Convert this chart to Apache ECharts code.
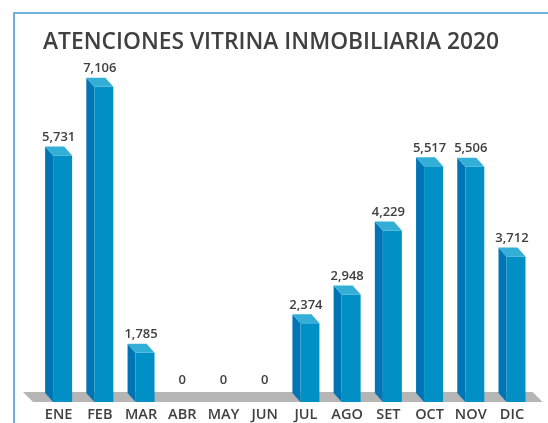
<!DOCTYPE html>
<html>
<head>
<meta charset="utf-8">
<script src="https://cdn.jsdelivr.net/npm/echarts@6/dist/echarts.min.js"></script>
<style>
  html, body { margin: 0; padding: 0; background: #fff; }
  #chart { width: 548px; height: 423px; }
</style>
</head>
<body>
<div id="chart"></div>
<script>
// datos
var meses = ['ENE', 'FEB', 'MAR', 'ABR', 'MAY', 'JUN', 'JUL', 'AGO', 'SET', 'OCT', 'NOV', 'DIC']
var atenciones = [5731, 7106, 1785, 0, 0, 0, 2374, 2948, 4229, 5517, 5506, 3712]
var titulo = 'ATENCIONES VITRINA INMOBILIARIA 2020'

// el eje del original no arranca en cero
var Y_MIN = 800
var Y_MAX = 8000

var chart = echarts.init(document.getElementById('chart'))

// barra "3d": cara lateral, frente y tapa
function barra3d(params, api) {
  var i = api.value(0)
  var v = api.value(1)
  var base = api.coord([i, Y_MIN])
  var cx = base[0]
  var yb = base[1]
  var yt = api.coord([i, Math.max(v, Y_MIN)])[1]
  var x0 = cx - 5.5
  var x1 = cx + 13.5
  var dx = 8
  var dy = 9
  var hijos = []
  if (yb - yt > 0.5) {
    hijos.push({
      type: 'polygon',
      shape: { points: [[x0 - dx, yt - dy], [x0, yt], [x0, yb], [x0 - dx, yb - dy]] },
      style: { fill: '#0075b5' }
    })
    hijos.push({
      type: 'rect',
      shape: { x: x0, y: yt, width: x1 - x0, height: yb - yt },
      style: { fill: '#0090c6' }
    })
    hijos.push({
      type: 'polygon',
      shape: { points: [[x0 - dx, yt - dy], [x1 - dx, yt - dy], [x1, yt], [x0, yt]] },
      style: { fill: '#33aed6' }
    })
  }
  var yl = yb - yt > 0.5 ? yt - dy - 9 : yb - 22
  hijos.push({
    type: 'text',
    style: {
      text: v.toLocaleString('en-US'),
      x: cx,
      y: yl,
      align: 'center',
      verticalAlign: 'middle',
      fill: '#404040',
      font: '600 13px "Open Sans"'
    }
  })
  return { type: 'group', children: hijos }
}

// piso gris debajo de las barras
function piso(params, api) {
  var a = api.coord([0, Y_MIN])
  var b = api.coord([meses.length - 1, Y_MIN])
  var w = api.size([1, 0])[0]
  var xl = a[0] - w / 2 - 5
  var xr = b[0] + w / 2 + 10
  var y = a[1]
  return {
    type: 'polygon',
    shape: { points: [[xl - 10, y - 10], [xr - 10, y - 10], [xr, y], [xl, y]] },
    style: { fill: '#b5b5b5' }
  }
}

chart.setOption({
  animation: false,
  title: {
    text: titulo,
    left: 38,
    top: 26,
    textStyle: {
      color: '#404040',
      fontFamily: 'Open Sans',
      fontWeight: 600,
      fontSize: 22.8
    }
  },
  graphic: [
    {
      type: 'rect',
      shape: { x: 14, y: 13, width: 600, height: 500 },
      style: { fill: 'none', stroke: '#6fb0d8', lineWidth: 2 }
    }
  ],
  grid: {
    left: 38,
    right: 15.4,
    top: 42,
    bottom: 21
  },
  xAxis: {
    type: 'category',
    data: meses,
    axisLine: { show: false },
    axisTick: { show: false },
    axisLabel: {
      interval: 0,
      hideOverlap: false,
      margin: 5,
      color: '#404040',
      fontFamily: 'Open Sans',
      fontWeight: 600,
      fontSize: 14.5
    }
  },
  yAxis: {
    type: 'value',
    min: Y_MIN,
    max: Y_MAX,
    show: false,
    splitLine: { show: false }
  },
  series: [
    {
      type: 'custom',
      renderItem: piso,
      data: [[0]],
      silent: true,
      clip: false
    },
    {
      type: 'custom',
      renderItem: barra3d,
      data: atenciones.map(function(v, i) { return [i, v] }),
      clip: false
    }
  ]
})

window.addEventListener('resize', function() {
  chart.resize()
})
</script>
</body>
</html>
